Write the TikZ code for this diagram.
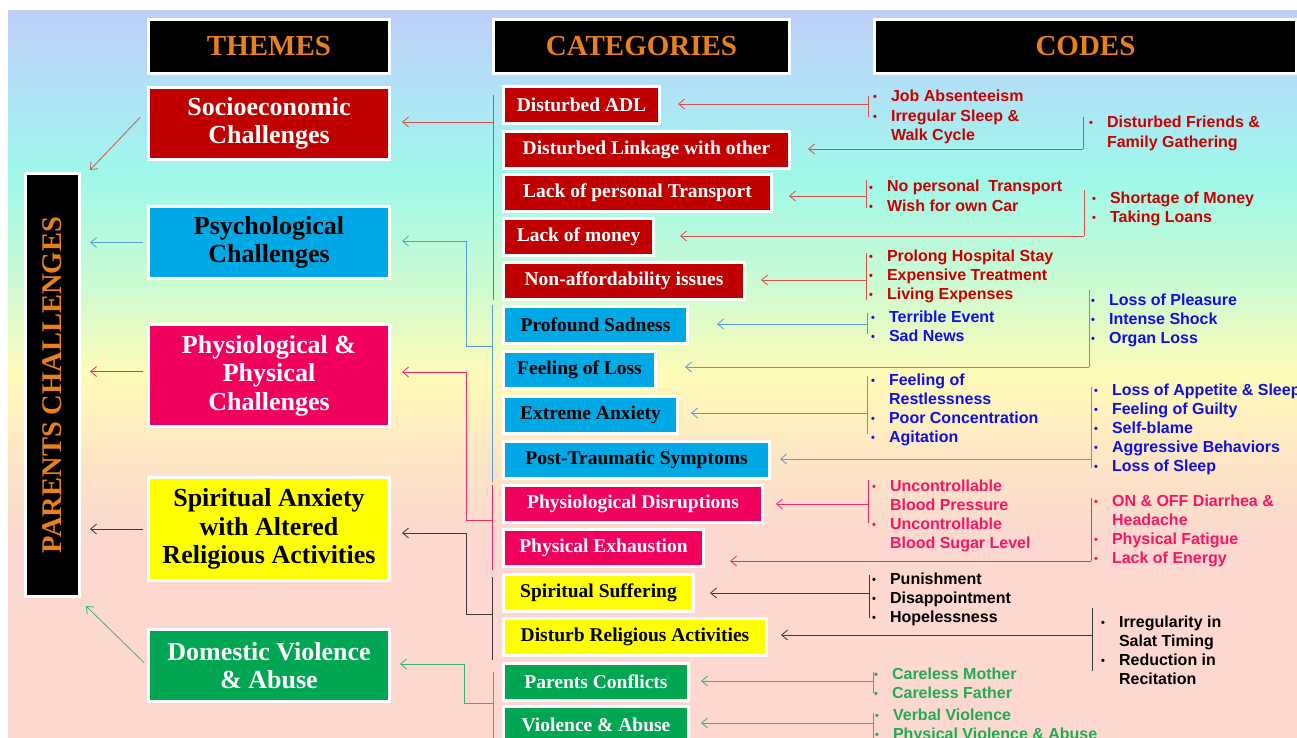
\documentclass[tikz,border=0pt]{standalone}
\usepackage{fontspec}
\setmainfont{Liberation Serif}
\setsansfont{Liberation Sans}
\usepackage{xcolor}
\usepackage{tikz}
\usetikzlibrary{arrows.meta,shadows}

% box fills
\definecolor{socred}{HTML}{C00000}
\definecolor{psyblue}{HTML}{00A8E6}
\definecolor{phypink}{HTML}{F2005E}
\definecolor{spiyellow}{HTML}{FFFF00}
\definecolor{domgreen}{HTML}{00A651}
\definecolor{headorange}{HTML}{E8801E}
% link and code colours
\definecolor{redlink}{HTML}{D65050}
\definecolor{bluelink}{HTML}{5B9BD5}
\definecolor{pinklink}{HTML}{F5286A}
\definecolor{darklink}{HTML}{3A3A3A}
\definecolor{greenlink}{HTML}{3CB46E}
\definecolor{redcode}{HTML}{C80000}
\definecolor{bluecode}{HTML}{1010E0}
\definecolor{pinkcode}{HTML}{FA1464}
\definecolor{greencode}{HTML}{22AA55}
% backdrop, bottom to top
\definecolor{bgpink}{HTML}{FCD8D0}
\definecolor{bgpeach}{HTML}{FDE5C5}
\definecolor{bgyellow}{HTML}{FFFBB8}
\definecolor{bgmint}{HTML}{CCFBD2}
\definecolor{bgaqua}{HTML}{9EF8EA}
\definecolor{bgsky}{HTML}{B0E2F6}
\definecolor{bgtop}{HTML}{BECEF8}
\pgfdeclareverticalshading{backdrop}{100bp}{color(0bp)=(bgpink); color(25bp)=(bgpink);
  color(38.6bp)=(bgpink); color(44.1bp)=(bgpeach); color(50bp)=(bgyellow);
  color(56.2bp)=(bgmint); color(63.7bp)=(bgaqua); color(69.6bp)=(bgsky);
  color(75bp)=(bgtop); color(100bp)=(bgtop)}

\newcommand{\codelist}[1]{\begin{tabular}[t]{@{}l@{\hspace{14pt}}l@{}}#1\end{tabular}}
\newcommand{\bul}{\raisebox{1pt}{\fontsize{11}{11}\selectfont\textbullet}}

\begin{document}
\begin{tikzpicture}[x=1pt,y=-1pt,
    >={Straight Barb[length=6pt,width=10pt]},
    box/.style={draw=white, line width=3pt, inner sep=0pt, anchor=north west,
      drop shadow={shadow xshift=1.5pt, shadow yshift=-1.5pt, opacity=0.25}},
    head/.style={box, fill=black, text=headorange, font=\fontsize{29}{30}\selectfont\bfseries},
    theme/.style={box, minimum width=241pt, align=center, font=\fontsize{26}{28.5}\selectfont\bfseries},
    cat/.style={box, minimum height=37pt, font=\fontsize{19.5}{21}\selectfont\bfseries},
    codes/.style={anchor=base west, inner sep=0pt, font=\sffamily\bfseries\fontsize{16}{19.2}\selectfont},
    socline/.style={line width=0.8pt, draw=redlink},
    psyline/.style={line width=0.8pt, draw=bluelink},
    phyline/.style={line width=0.8pt, draw=pinklink},
    spiline/.style={line width=0.8pt, draw=darklink},
    domline/.style={line width=0.8pt, draw=greenlink}]

    \useasboundingbox (0,0) rectangle (1297,738);
    \fill[white] (0,0) rectangle (1297,738);
    \shade[shading=backdrop] (8,11) rectangle (1297,738);

    % column heads
    \node[head, minimum width=241pt, minimum height=54pt] (themesHead) at (147,18) {THEMES};
    \node[head, minimum width=296pt, minimum height=54pt] (catsHead) at (492,18) {CATEGORIES};
    \node[head, minimum width=422pt, minimum height=54pt] (codesHead) at (873,18) {CODES};

    % main column
    \node[box, fill=black, text=headorange, minimum width=54pt, minimum height=423pt,
      font=\fontsize{28.5}{30}\selectfont\bfseries] (parents) at (24,172) {\rotatebox{90}{PARENTS CHALLENGES}};

    % themes
    \node[theme, fill=socred, text=white, minimum height=72pt] (socio) at (147,86) {Socioeconomic\\Challenges};
    \node[theme, fill=psyblue, text=black, minimum height=72pt] (psych) at (147,205) {Psychological\\Challenges};
    \node[theme, fill=phypink, text=white, minimum height=102pt] (physio) at (147,323) {Physiological \&\\Physical\\Challenges};
    \node[theme, fill=spiyellow, text=black, minimum height=103pt] (spirit) at (147,476) {Spiritual Anxiety\\with Altered\\Religious Activities};
    \node[theme, fill=domgreen, text=white, minimum height=72pt] (domestic) at (147,628) {Domestic Violence\\\& Abuse};

    % categories
    \node[cat, fill=socred, text=white, minimum width=156pt] (adl) at (502,85) {Disturbed ADL};
    \node[cat, fill=socred, text=white, minimum width=286pt] (linkage) at (502,130) {Disturbed Linkage with other};
    \node[cat, fill=socred, text=white, minimum width=268pt] (transport) at (502,173) {Lack of personal Transport};
    \node[cat, fill=socred, text=white, minimum width=150pt] (money) at (502,217) {Lack of money};
    \node[cat, fill=socred, text=white, minimum width=241pt] (afford) at (502,261) {Non-affordability issues};
    \node[cat, fill=psyblue, text=black, minimum width=184pt] (sadness) at (502,305) {Profound Sadness};
    \node[cat, fill=psyblue, text=black, minimum width=152pt] (loss) at (502,350) {Feeling of Loss};
    \node[cat, fill=psyblue, text=black, minimum width=174pt] (anxiety) at (502,395) {Extreme Anxiety};
    \node[cat, fill=psyblue, text=black, minimum width=266pt] (ptsd) at (502,440) {Post-Traumatic Symptoms};
    \node[cat, fill=phypink, text=white, minimum width=259pt] (disrupt) at (502,484) {Physiological Disruptions};
    \node[cat, fill=phypink, text=white, minimum width=200pt] (exhaust) at (502,528) {Physical Exhaustion};
    \node[cat, fill=spiyellow, text=black, minimum width=190pt] (suffer) at (502,573) {Spiritual Suffering};
    \node[cat, fill=spiyellow, text=black, minimum width=263pt] (religion) at (502,617) {Disturb Religious Activities};
    \node[cat, fill=domgreen, text=white, minimum width=185pt] (conflict) at (502,662) {Parents Conflicts};
    \node[cat, fill=domgreen, text=white, minimum width=185pt] (abuse) at (502,705) {Violence \& Abuse};

    % codes
    \node[codes, text=redcode] (adlCodes) at (873,102) {\codelist{\bul & Job Absenteeism\\ \bul & Irregular Sleep \&\\ & Walk Cycle}};
    \node[codes, text=redcode] (linkCodes) at (1089,128) {\codelist{\bul & Disturbed Friends \&\\ & Family Gathering}};
    \node[codes, text=redcode] (transCodes) at (869,192) {\codelist{\bul & No personal~ Transport\\ \bul & Wish for own Car}};
    \node[codes, text=redcode] (moneyCodes) at (1092,203) {\codelist{\bul & Shortage of Money\\ \bul & Taking Loans}};
    \node[codes, text=redcode] (affCodes) at (869,261) {\codelist{\bul & Prolong Hospital Stay\\ \bul & Expensive Treatment\\ \bul & Living Expenses}};
    \node[codes, text=bluecode] (lossCodes) at (1091,305) {\codelist{\bul & Loss of Pleasure\\ \bul & Intense Shock\\ \bul & Organ Loss}};
    \node[codes, text=bluecode] (sadCodes) at (871,322) {\codelist{\bul & Terrible Event\\ \bul & Sad News}};
    \node[codes, text=bluecode] (anxCodes) at (871,385) {\codelist{\bul & Feeling of\\ & Restlessness\\ \bul & Poor Concentration\\ \bul & Agitation}};
    \node[codes, text=bluecode] (ptsdCodes) at (1094,395) {\codelist{\bul & Loss of Appetite \& Sleep\\ \bul & Feeling of Guilty\\ \bul & Self-blame\\ \bul & Aggressive Behaviors\\ \bul & Loss of Sleep}};
    \node[codes, text=pinkcode] (disCodes) at (872,491) {\codelist{\bul & Uncontrollable\\ & Blood Pressure\\ \bul & Uncontrollable\\ & Blood Sugar Level}};
    \node[codes, text=pinkcode] (exhCodes) at (1094,506) {\codelist{\bul & ON \& OFF Diarrhea \&\\ & Headache\\ \bul & Physical Fatigue\\ \bul & Lack of Energy}};
    \node[codes, text=black] (sufCodes) at (872,584) {\codelist{\bul & Punishment\\ \bul & Disappointment\\ \bul & Hopelessness}};
    \node[codes, text=black] (relCodes) at (1101,627) {\codelist{\bul & Irregularity in\\ & Salat Timing\\ \bul & Reduction in\\ & Recitation}};
    \node[codes, text=greencode] (conCodes) at (874,679) {\codelist{\bul & Careless Mother\\ \bul & Careless Father}};
    \node[codes, text=greencode] (abuCodes) at (875,720) {\codelist{\bul & Verbal Violence\\ \bul & Physical Violence \& Abuse}};

    % themes into the main column
    \draw[socline,->] ([shift={(-7,-6)}]socio.west) -- ([shift={(9,-2)}]parents.north east);
    \draw[psyline,->,shorten <=4pt,shorten >=9pt] (psych.west) -- (psych.west -| parents.east);
    \coordinate (phyOut) at ([yshift=4pt]physio.west);
    \draw[phyline,->,shorten <=4pt,shorten >=9pt] (phyOut) -- (phyOut -| parents.east);
    \draw[spiline,->,shorten <=4pt,shorten >=9pt] (spirit.west) -- (spirit.west -| parents.east);
    \draw[domline,->,shorten <=4pt] (domestic.west) -- ([shift={(5,8)}]parents.south east);

    % category groups into the themes
    \draw[socline] (493,95) -- (493,300);
    \coordinate (socJoin) at (493,122);
    \draw[socline,->,shorten >=11pt] (socJoin) -- (socJoin -| socio.east);

    \draw[psyline] (492,305) -- (492,482);
    \coordinate (psyJoin) at (492,346);
    \coordinate (psyBend) at (466,241);
    \draw[psyline,->,shorten >=11pt] (psyJoin) -| (psyBend) -- (psyBend -| psych.east);

    \draw[phyline] (492,485) -- (492,570);
    \coordinate (phyJoin) at (492,520);
    \coordinate (phyBend) at (466,372);
    \draw[phyline,->,shorten >=11pt] (phyJoin) -| (phyBend) -- (phyBend -| physio.east);

    \draw[spiline] (492,577) -- (492,660);
    \coordinate (spiJoin) at (492,614);
    \coordinate (spiBend) at (466,533);
    \draw[spiline,->,shorten >=11pt] (spiJoin) -| (spiBend) -- (spiBend -| spirit.east);

    \draw[domline] (493,672) -- (493,745);
    \coordinate (domJoin) at (493,703);
    \coordinate (domBend) at (464,664);
    \draw[domline,->,shorten >=9pt] (domJoin) -| (domBend) -- (domBend -| domestic.east);

    % codes into the categories
    \draw[socline] (868,96) -- (868,117);
    \coordinate (adlIn) at (868,104);
    \draw[socline,->,shorten >=17pt] (adlIn) -- (adlIn -| adl.east);

    \draw[socline] (1083,117) -- (1083,149);
    \coordinate (linkIn) at (1083,149);
    \draw[socline,->,shorten >=17pt] (linkIn) -- (linkIn -| linkage.east);

    \draw[socline] (866,180) -- (866,208);
    \coordinate (transIn) at (866,196);
    \draw[socline,->,shorten >=16pt] (transIn) -- (transIn -| transport.east);

    \draw[socline] (1084,190) -- (1084,236);
    \coordinate (moneyIn) at (1084,236);
    \draw[socline,->,shorten >=25pt] (moneyIn) -- (moneyIn -| money.east);

    \draw[socline] (866,253) -- (866,300);
    \coordinate (affIn) at (866,280);
    \draw[socline,->,shorten >=15pt] (affIn) -- (affIn -| afford.east);

    \draw[psyline] (1089,290) -- (1089,367);
    \coordinate (lossIn) at (1089,367);
    \draw[psyline,->,shorten >=28pt] (lossIn) -- (lossIn -| loss.east);

    \draw[psyline] (867,313) -- (867,334);
    \coordinate (sadIn) at (867,324);
    \draw[psyline,->,shorten >=28pt] (sadIn) -- (sadIn -| sadness.east);

    \draw[psyline] (867,376) -- (867,434);
    \coordinate (anxIn) at (867,413);
    \draw[psyline,->,shorten >=12pt] (anxIn) -- (anxIn -| anxiety.east);

    \draw[psyline] (1091,387) -- (1091,468);
    \coordinate (ptsdIn) at (1091,459);
    \draw[psyline,->,shorten >=9pt] (ptsdIn) -- (ptsdIn -| ptsd.east);

    \draw[phyline] (868,480) -- (868,523);
    \coordinate (disIn) at (868,504);
    \draw[phyline,->,shorten >=12pt] (disIn) -- (disIn -| disrupt.east);

    \draw[phyline] (1091,498) -- (1091,561);
    \coordinate (exhIn) at (1091,561);
    \draw[phyline,->,shorten >=25pt] (exhIn) -- (exhIn -| exhaust.east);

    \draw[spiline] (869,575) -- (869,618);
    \coordinate (sufIn) at (869,593);
    \draw[spiline,->,shorten >=15pt] (sufIn) -- (sufIn -| suffer.east);

    \draw[spiline] (1092,608) -- (1092,671);
    \coordinate (relIn) at (1092,635);
    \draw[spiline,->,shorten >=13pt] (relIn) -- (relIn -| religion.east);

    \draw[domline] (873,672) -- (873,693);
    \coordinate (conIn) at (873,681);
    \draw[domline,->,shorten >=11pt] (conIn) -- (conIn -| conflict.east);

    \draw[domline] (873,713) -- (873,745);
    \coordinate (abuIn) at (873,723);
    \draw[domline,->,shorten >=11pt] (abuIn) -- (abuIn -| abuse.east);
\end{tikzpicture}
\end{document}
